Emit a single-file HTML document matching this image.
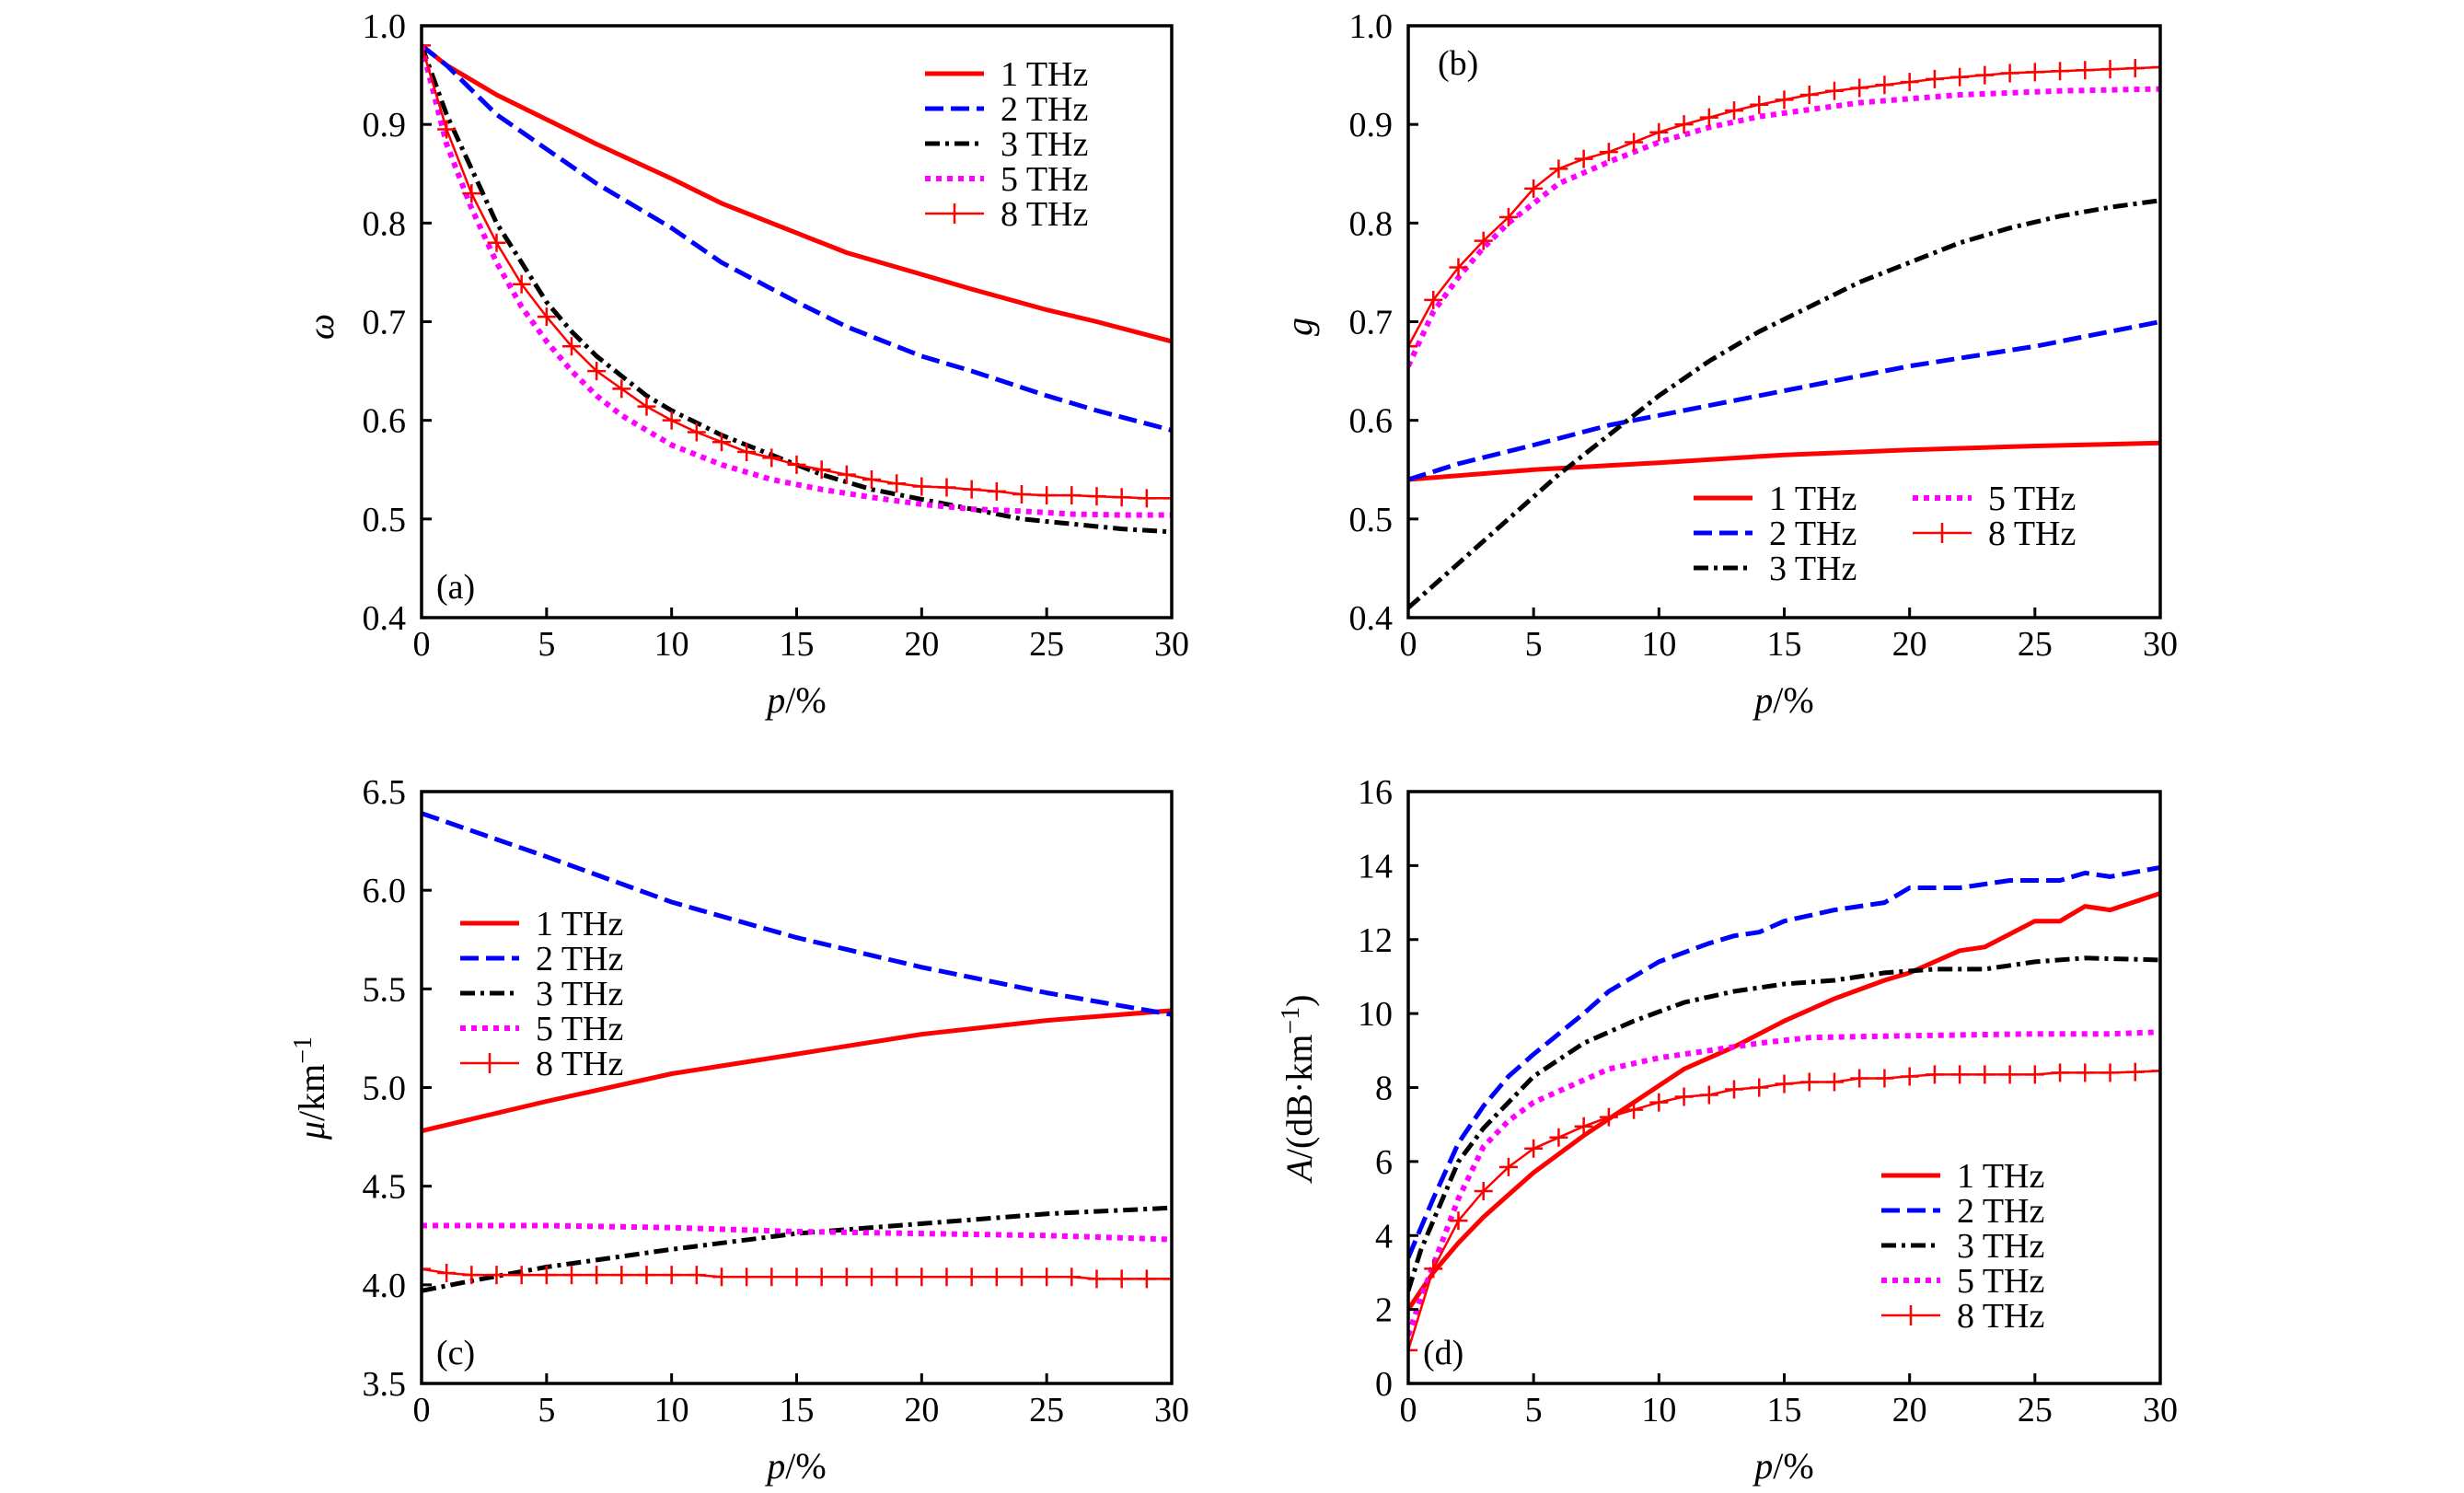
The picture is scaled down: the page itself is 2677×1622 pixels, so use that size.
<!DOCTYPE html>
<html><head><meta charset="utf-8"><style>
html,body{margin:0;padding:0;background:#fff;}
svg{display:block;font-family:"Liberation Serif",serif;}
</style></head><body>
<svg id="fig" width="2677" height="1622" viewBox="0 0 2677 1622" xmlns="http://www.w3.org/2000/svg"></svg>
<script>
const xs = [0,1,2,3,4,5,6,7,8,9,10,11,12,13,14,15,16,17,18,19,20,21,22,23,24,25,26,27,28,29,30];
// Panel (a) omega
const aX1 = [0,1,2,3,5,7,10,12,15,17,20,22,25,27,30];
const a1 = [0.98,0.96,0.945,0.93,0.905,0.88,0.845,0.82,0.79,0.77,0.748,0.733,0.712,0.70,0.68];
const a2 = [0.98,0.96,0.935,0.91,0.875,0.84,0.795,0.76,0.72,0.695,0.665,0.65,0.625,0.61,0.59];
const aX3 = [0,1,2,3,4,5,6,7,8,9,10,12,14,16,18,20,22,24,26,28,30];
const a3 = [0.98,0.91,0.855,0.80,0.76,0.72,0.69,0.665,0.645,0.625,0.61,0.585,0.565,0.545,0.53,0.52,0.51,0.50,0.495,0.49,0.487];
const a5 = [0.98,0.88,0.815,0.76,0.715,0.68,0.65,0.625,0.605,0.59,0.575,0.555,0.54,0.53,0.522,0.515,0.51,0.508,0.505,0.504,0.504];
const a8 = [0.98,0.895,0.83,0.78,0.738,0.705,0.675,0.65,0.632,0.614,0.6,0.588,0.578,0.568,0.562,0.555,0.55,0.545,0.54,0.536,0.533,0.532,0.53,0.528,0.525,0.524,0.524,0.523,0.522,0.521,0.521];
// Panel (b) g
const bX1 = [0,5,10,15,20,25,30];
const b1 = [0.54,0.55,0.557,0.565,0.57,0.574,0.577];
const bX2 = [0,2,5,8,10,15,20,25,30];
const b2 = [0.54,0.556,0.575,0.595,0.605,0.63,0.655,0.675,0.7];
const bX3 = [0,2,4,6,8,10,12,14,16,18,20,22,24,26,28,30];
const b3 = [0.41,0.455,0.5,0.545,0.585,0.625,0.66,0.69,0.715,0.74,0.76,0.78,0.795,0.807,0.816,0.823];
const bX5 = [0,1,2,3,4,5,6,8,10,12,14,16,18,20,22,24,26,28,30];
const b5 = [0.655,0.71,0.745,0.775,0.8,0.82,0.84,0.862,0.882,0.897,0.908,0.915,0.922,0.926,0.93,0.932,0.934,0.935,0.936];
const b8 = [0.675,0.722,0.755,0.782,0.806,0.835,0.855,0.865,0.872,0.882,0.892,0.9,0.907,0.914,0.92,0.925,0.93,0.934,0.937,0.94,0.943,0.946,0.948,0.95,0.952,0.953,0.954,0.955,0.956,0.957,0.958];
// Panel (c) mu
const cX = [0,5,10,15,20,25,30];
const c1 = [4.78,4.93,5.07,5.17,5.27,5.34,5.39];
const c2 = [6.39,6.17,5.94,5.76,5.61,5.48,5.37];
const cX3 = [0,2,5,10,15,20,25,30];
const c3 = [3.97,4.02,4.09,4.18,4.26,4.31,4.36,4.39];
const c5 = [4.30,4.30,4.29,4.27,4.26,4.25,4.23];
const c8 = [4.08,4.06,4.05,4.05,4.05,4.05,4.05,4.05,4.05,4.05,4.05,4.05,4.04,4.04,4.04,4.04,4.04,4.04,4.04,4.04,4.04,4.04,4.04,4.04,4.04,4.04,4.04,4.03,4.03,4.03,4.03];
// Panel (d) A
const dX1 = [0,1,2,3,4,5,7,9,11,13,15,17,19,20,22,23,25,26,27,28,30];
const d1 = [2.0,3.0,3.8,4.5,5.1,5.7,6.7,7.6,8.5,9.1,9.8,10.4,10.9,11.1,11.7,11.8,12.5,12.5,12.9,12.8,13.25];
const dX2 = [0,0.5,1,2,3,4,5,7,8,10,12,13,14,15,17,18,19,20,22,23,24,26,27,28,30];
const d2 = [3.4,4.2,5.0,6.5,7.5,8.3,8.9,10.0,10.6,11.4,11.9,12.1,12.2,12.5,12.8,12.9,13.0,13.4,13.4,13.5,13.6,13.6,13.8,13.7,13.95];
const dX3 = [0,0.5,1,2,3,4,5,7,9,11,13,15,17,19,21,23,25,27,30];
const d3 = [2.5,3.6,4.4,6.0,6.9,7.6,8.3,9.2,9.8,10.3,10.6,10.8,10.9,11.1,11.2,11.2,11.4,11.5,11.45];
const dX5 = [0,0.5,1,2,3,4,5,6,8,10,12,14,16,20,25,28,30];
const d5 = [1.3,2.3,3.2,5.0,6.4,7.1,7.6,7.9,8.5,8.8,9.0,9.2,9.35,9.4,9.45,9.45,9.5];
const d8 = [0.9,3.1,4.4,5.2,5.85,6.35,6.65,6.95,7.2,7.4,7.6,7.75,7.8,7.95,8.0,8.1,8.15,8.15,8.25,8.25,8.3,8.35,8.35,8.35,8.35,8.35,8.4,8.4,8.4,8.42,8.45];

const xTicks = [0,5,10,15,20,25,30];
const aTicks = ["0.4","0.5","0.6","0.7","0.8","0.9","1.0"];
const cTicks = ["3.5","4.0","4.5","5.0","5.5","6.0","6.5"];
const dTicks = ["0","2","4","6","8","10","12","14","16"];
const legendLabels = ["1 THz","2 THz","3 THz","5 THz","8 THz"];

const NS = "http://www.w3.org/2000/svg";
const svg = document.getElementById('fig');
function mk(tag, attrs, parent){ const e=document.createElementNS(NS,tag); for(const k in attrs) e.setAttribute(k,attrs[k]); (parent||svg).appendChild(e); return e; }

const styles = {
  s1:{stroke:"#f00","stroke-width":5,dash:null},
  s2:{stroke:"#00f","stroke-width":5,dash:"20 8"},
  s3:{stroke:"#000","stroke-width":5,dash:"16 6 4 6"},
  s5:{stroke:"#f0f","stroke-width":6,dash:"6 6"},
  s8:{stroke:"#f00","stroke-width":2.5,dash:null}
};

function panel(o){
  const g = mk('g',{});
  
  
  const X = v => o.L + (v-0)/30*(o.R-o.L);
  const Y = v => o.B - (v-o.ymin)/(o.ymax-o.ymin)*(o.B-o.T);
  const clip = mk('clipPath',{id:'clip-'+o.name},g);
  mk('rect',{x:o.L,y:o.T,width:o.R-o.L,height:o.B-o.T},clip);
  o.series.forEach((s,i)=>{
    const st = styles[s.style];
    const d = s.x.map((xv,j)=>(j?'L':'M')+X(xv).toFixed(1)+' '+Y(s.y[j]).toFixed(1)).join(' ');
    const p = mk('path',{d:d,fill:'none',stroke:st.stroke,'stroke-width':st['stroke-width'],'clip-path':'url(#clip-'+o.name+')','stroke-linejoin':'round'},g);
    if(st.dash) p.setAttribute('stroke-dasharray',st.dash);
    
    
    if(s.style==='s8'){
      s.x.forEach((xv,j)=>{
        const cx=X(xv), cy=Y(s.y[j]);
        const m = mk('path',{d:`M${cx-10} ${cy}H${cx+10}M${cx} ${cy-10}V${cy+10}`,stroke:'#f00','stroke-width':2.5,'clip-path':'url(#clip-'+o.name+')'},g);
        
        
      });
    }
  });
  const fr = mk('rect',{x:o.L,y:o.T,width:o.R-o.L,height:o.B-o.T,fill:'none',stroke:'#000','stroke-width':3.5},g);
  
  
  xTicks.forEach(t=>{
    const x=X(t);
    mk('line',{x1:x,x2:x,y1:o.B,y2:o.B-11,stroke:'#000','stroke-width':3},g);
    const tx = mk('text',{x:x,y:o.B+41,'font-size':38,'text-anchor':'middle'},g);
    tx.textContent = t;
    
    
  });
  o.yTicks.forEach((lab,i)=>{
    const v = o.ymin + i*o.ystep;
    const y=Y(v);
    mk('line',{x1:o.L,x2:o.L+11,y1:y,y2:y,stroke:'#000','stroke-width':3},g);
    const tx = mk('text',{x:o.L-17,y:y+13,'font-size':38,'text-anchor':'end'},g);
    tx.textContent = lab;
    
    
  });
  const xt = mk('text',{x:(o.L+o.R)/2,y:o.B+103,'font-size':40,'text-anchor':'middle'},g);
  xt.innerHTML = '<tspan font-style="italic">p</tspan>/%';
  
  
  const yt = mk('text',{x:o.ytx,y:o.yty,'font-size':40,'text-anchor':'middle',transform:`rotate(-90 ${o.ytx} ${o.yty})`},g);
  yt.innerHTML = o.ytitle;
  
  
  const pl = mk('text',{x:o.lab[0],y:o.lab[1],'font-size':38},g);
  pl.textContent = o.labText;
  
  
  o.legend.forEach(en=>{
    const st = styles[en.style];
    const lg = mk('g',{},g);
    
    
    const ln = mk('line',{x1:en.x,x2:en.x+64,y1:en.y,y2:en.y,stroke:st.stroke,'stroke-width':st['stroke-width']},lg);
    if(st.dash) ln.setAttribute('stroke-dasharray',st.dash);
    if(en.style==='s8') mk('path',{d:`M${en.x+32} ${en.y-11}V${en.y+11}`,stroke:'#f00','stroke-width':2.5},lg);
    const tx = mk('text',{x:en.x+82,y:en.y+13,'font-size':38},lg);
    tx.textContent = en.text;
  });
}

const st = ['s1','s2','s3','s5','s8'];
function leg(x,y,dy){ return st.map((s,i)=>({style:s,text:legendLabels[i],x:x,y:y+i*dy})); }

panel({name:'panel-a',L:458,R:1273,T:28,B:671,ymin:0.4,ymax:1.0,ystep:0.1,yTicks:aTicks,
  ytx:362,yty:355,ytitle:'<tspan font-style="italic">ω</tspan>',lab:[474,650],labText:'(a)',
  legend:leg(1005,80,38),
  series:[{style:'s1',x:aX1,y:a1},{style:'s2',x:aX1,y:a2},{style:'s3',x:aX3,y:a3},{style:'s5',x:aX3,y:a5},{style:'s8',x:xs,y:a8}]});

panel({name:'panel-b',L:1530,R:2347,T:28,B:671,ymin:0.4,ymax:1.0,ystep:0.1,yTicks:aTicks,
  ytx:1425,yty:355,ytitle:'<tspan font-style="italic">g</tspan>',lab:[1562,81],labText:'(b)',
  legend:[{style:'s1',text:'1 THz',x:1840,y:541},{style:'s2',text:'2 THz',x:1840,y:579},{style:'s3',text:'3 THz',x:1840,y:617},
          {style:'s5',text:'5 THz',x:2078,y:541},{style:'s8',text:'8 THz',x:2078,y:579}],
  series:[{style:'s1',x:bX1,y:b1},{style:'s2',x:bX2,y:b2},{style:'s3',x:bX3,y:b3},{style:'s5',x:bX5,y:b5},{style:'s8',x:xs,y:b8}]});

panel({name:'panel-c',L:458,R:1273,T:860,B:1503,ymin:3.5,ymax:6.5,ystep:0.5,yTicks:cTicks,
  ytx:352,yty:1182,ytitle:'<tspan font-style="italic">μ</tspan>/km<tspan dy="-14" font-size="28">−1</tspan>',lab:[474,1482],labText:'(c)',
  legend:leg(500,1003,38),
  series:[{style:'s1',x:cX,y:c1},{style:'s2',x:cX,y:c2},{style:'s3',x:cX3,y:c3},{style:'s5',x:cX,y:c5},{style:'s8',x:xs,y:c8}]});

panel({name:'panel-d',L:1530,R:2347,T:860,B:1503,ymin:0,ymax:16,ystep:2,yTicks:dTicks,
  ytx:1425,yty:1182,ytitle:'<tspan font-style="italic">A</tspan>/(dB·km<tspan dy="-14" font-size="28">−1</tspan><tspan dy="14">)</tspan>',lab:[1546,1482],labText:'(d)',
  legend:leg(2044,1277,38),
  series:[{style:'s1',x:dX1,y:d1},{style:'s2',x:dX2,y:d2},{style:'s3',x:dX3,y:d3},{style:'s5',x:dX5,y:d5},{style:'s8',x:xs,y:d8}]});
</script>
</body></html>
